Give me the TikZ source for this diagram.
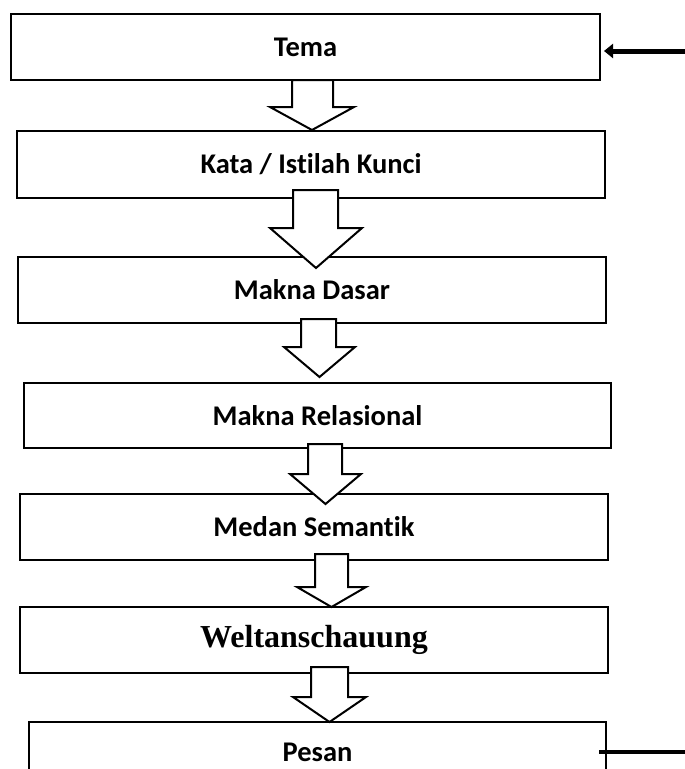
\documentclass[tikz,border=0pt]{standalone}
\usepackage{fontspec}
\setmainfont{Carlito}[Ligatures=NoCommon]
\newfontfamily\weltfont{Liberation Serif}
\usetikzlibrary{arrows.meta}

\tikzset{
  stage/.style={draw, line width=2.4pt, minimum height=66pt, inner sep=0pt, outer sep=0pt,
    font=\bfseries\fontsize{28.5}{32}\selectfont},
  blockarrow/.style={draw, fill=white, line width=2pt, line join=miter},
}
% shaft left, shaft right, top, shoulder, head left, head right, tip
\newcommand{\downblock}[7]{%
  \draw[blockarrow] (#1,#3) -- (#1,#4) -- (#5,#4) -- ({(#5+#6)/2},#7)
    -- (#6,#4) -- (#2,#4) -- (#2,#3) -- cycle;}

\begin{document}
\begin{tikzpicture}[x=1pt, y=-1pt]
  \useasboundingbox (0,0) rectangle (685,769);
  \node[stage, minimum width=589pt] (tema) at (305.5,47) {Tema};
  \node[stage, minimum width=588pt, minimum height=67pt] (kata) at (311,164.5) {Kata / Istilah Kunci};
  \node[stage, minimum width=588pt] (dasar) at (312,290) {Makna Dasar};
  \node[stage, minimum width=587pt, minimum height=65pt] (relasi) at (317.5,415.5) {Makna Relasional};
  \node[stage, minimum width=588pt] (medan) at (314,527) {Medan Semantik};
  \node[stage, minimum width=588pt, font=\weltfont\bfseries\fontsize{32}{36}\selectfont] (welt) at (314,640) {Weltanschauung};
  \node[stage, minimum width=577pt, minimum height=60pt] (pesan) at (317.5,752) {Pesan};
  % block arrows between the stages
  \downblock{292}{333}{80}{107}{270}{354}{130}
  \downblock{293}{338}{190}{228}{270}{362}{268}
  \downblock{301}{336}{319}{347}{284}{355}{377}
  \downblock{308}{342}{444}{474}{290}{361}{504}
  \downblock{315}{348}{554}{587}{297}{366}{607}
  \downblock{311}{348}{667}{697}{293}{366}{722}
  \coordinate (masuk) at (685,51);
  \coordinate (keluar) at (685,752);
  \draw[-{Triangle[length=9pt,width=14pt]}, line width=5pt] (masuk) -- ([xshift=4pt,yshift=-4pt]tema.east);
  \draw[line width=4pt] ([xshift=-7pt]pesan.east) -- (keluar);
\end{tikzpicture}
\end{document}
